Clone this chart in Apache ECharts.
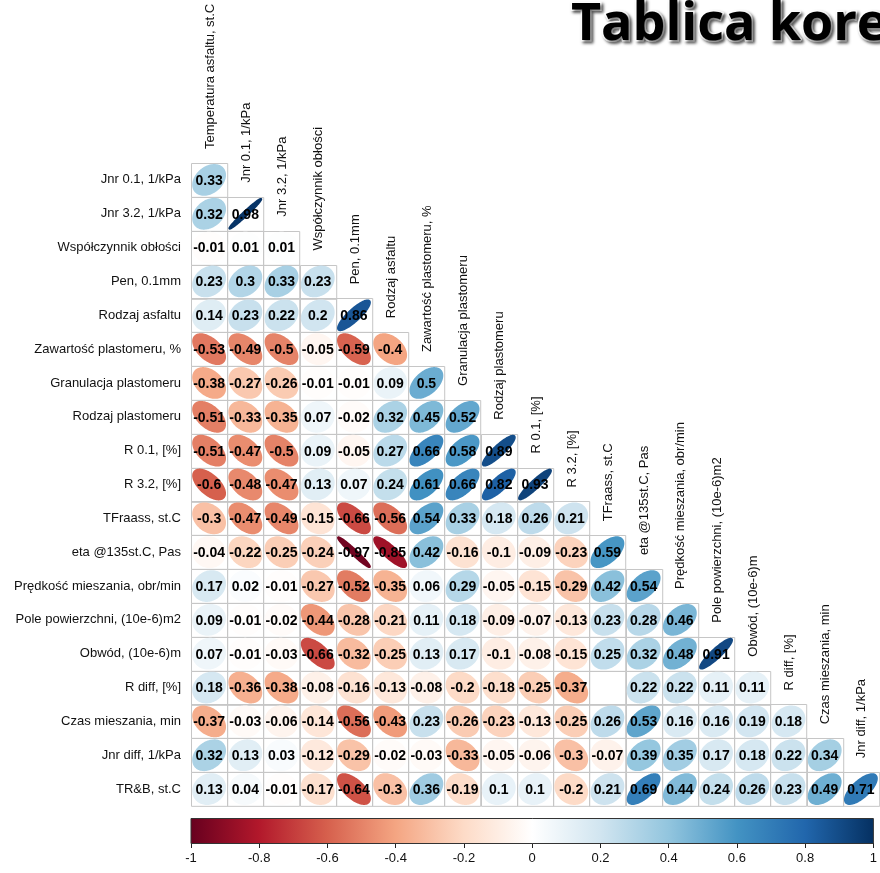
<!DOCTYPE html>
<html>
<head>
<meta charset="utf-8">
<script src="https://cdn.jsdelivr.net/npm/echarts@6/dist/echarts.min.js"></script>
<style>
  html, body { margin: 0; padding: 0; background: #fff; }
  #chart { width: 880px; height: 873px; }
</style>
</head>
<body>
<div id="chart"></div>
<script>
// Variables along the rows (lower triangle, diagonal omitted)
const rowNames = [
  'Jnr 0.1, 1/kPa', 'Jnr 3.2, 1/kPa', 'Współczynnik obłości', 'Pen, 0.1mm',
  'Rodzaj asfaltu', 'Zawartość plastomeru, %', 'Granulacja plastomeru',
  'Rodzaj plastomeru', 'R 0.1, [%]', 'R 3.2, [%]', 'TFraass, st.C',
  'eta @135st.C, Pas', 'Prędkość mieszania, obr/min', 'Pole powierzchni, (10e-6)m2',
  'Obwód, (10e-6)m', 'R diff, [%]', 'Czas mieszania, min', 'Jnr diff, 1/kPa', 'TR&B, st.C'
];

// Variables along the columns
const colNames = [
  'Temperatura asfaltu, st.C', 'Jnr 0.1, 1/kPa', 'Jnr 3.2, 1/kPa', 'Współczynnik obłości',
  'Pen, 0.1mm', 'Rodzaj asfaltu', 'Zawartość plastomeru, %', 'Granulacja plastomeru',
  'Rodzaj plastomeru', 'R 0.1, [%]', 'R 3.2, [%]', 'TFraass, st.C', 'eta @135st.C, Pas',
  'Prędkość mieszania, obr/min', 'Pole powierzchni, (10e-6)m2', 'Obwód, (10e-6)m',
  'R diff, [%]', 'Czas mieszania, min', 'Jnr diff, 1/kPa'
];

// Pearson correlations, one row per variable (null = not available)
const corrRows = [
  [0.33],
  [0.32, 0.98],
  [-0.01, 0.01, 0.01],
  [0.23, 0.3, 0.33, 0.23],
  [0.14, 0.23, 0.22, 0.2, 0.86],
  [-0.53, -0.49, -0.5, -0.05, -0.59, -0.4],
  [-0.38, -0.27, -0.26, -0.01, -0.01, 0.09, 0.5],
  [-0.51, -0.33, -0.35, 0.07, -0.02, 0.32, 0.45, 0.52],
  [-0.51, -0.47, -0.5, 0.09, -0.05, 0.27, 0.66, 0.58, 0.89],
  [-0.6, -0.48, -0.47, 0.13, 0.07, 0.24, 0.61, 0.66, 0.82, 0.93],
  [-0.3, -0.47, -0.49, -0.15, -0.66, -0.56, 0.54, 0.33, 0.18, 0.26, 0.21],
  [-0.04, -0.22, -0.25, -0.24, -0.97, -0.85, 0.42, -0.16, -0.1, -0.09, -0.23, 0.59],
  [0.17, 0.02, -0.01, -0.27, -0.52, -0.35, 0.06, 0.29, -0.05, -0.15, -0.29, 0.42, 0.54],
  [0.09, -0.01, -0.02, -0.44, -0.28, -0.21, 0.11, 0.18, -0.09, -0.07, -0.13, 0.23, 0.28, 0.46],
  [0.07, -0.01, -0.03, -0.66, -0.32, -0.25, 0.13, 0.17, -0.1, -0.08, -0.15, 0.25, 0.32, 0.48, 0.91],
  [0.18, -0.36, -0.38, -0.08, -0.16, -0.13, -0.08, -0.2, -0.18, -0.25, -0.37, null, 0.22, 0.22, 0.11, 0.11],
  [-0.37, -0.03, -0.06, -0.14, -0.56, -0.43, 0.23, -0.26, -0.23, -0.13, -0.25, 0.26, 0.53, 0.16, 0.16, 0.19, 0.18],
  [0.32, 0.13, 0.03, -0.12, -0.29, -0.02, -0.03, -0.33, -0.05, -0.06, -0.3, -0.07, 0.39, 0.35, 0.17, 0.18, 0.22, 0.34],
  [0.13, 0.04, -0.01, -0.17, -0.64, -0.3, 0.36, -0.19, 0.1, 0.1, -0.2, 0.21, 0.69, 0.44, 0.24, 0.26, 0.23, 0.49, 0.71]
];

// Colour bar ticks
const legendTicks = [-1, -0.8, -0.6, -0.4, -0.2, 0, 0.2, 0.4, 0.6, 0.8, 1];

// Diverging red-white-blue palette, evenly spaced from -1 to 1
const palette = ['#67001F', '#B2182B', '#D6604D', '#F4A582', '#FDDBC7', '#FFFFFF',
                 '#D1E5F0', '#92C5DE', '#4393C3', '#2166AC', '#053061'];

function hexToRgb(h) {
  return [parseInt(h.slice(1, 3), 16), parseInt(h.slice(3, 5), 16), parseInt(h.slice(5, 7), 16)];
}
function colorFor(r) {
  const t = (r + 1) / 2 * (palette.length - 1);
  const i = Math.min(Math.floor(t), palette.length - 2);
  const f = t - i;
  const a = hexToRgb(palette[i]), b = hexToRgb(palette[i + 1]);
  const c = a.map((v, k) => Math.round(v + (b[k] - v) * f));
  return 'rgb(' + c.join(',') + ')';
}

const cells = [];
corrRows.forEach((row, ri) => {
  row.forEach((r, ci) => cells.push({ col: ci, row: ri, r: r }));
});

const FONT = '"Liberation Sans", Arial, sans-serif';

function renderCell(params, api) {
  const c = cells[params.dataIndex];
  const ctr = api.coord([c.col, c.row]);
  const size = api.size([1, 1]);
  const w = size[0], h = size[1];
  const children = [{
    type: 'rect',
    shape: { x: Math.round(ctr[0] - w / 2) + 0.5, y: Math.round(ctr[1] - h / 2) + 0.5, width: w, height: h },
    style: { fill: null, stroke: '#c6c6c6', lineWidth: 1 }
  }];
  if (c.r !== null) {
    // ellipse whose eccentricity and tilt follow the correlation
    const d = Math.acos(c.r) / 2;
    const pts = [];
    for (let i = 0; i < 100; i++) {
      const k = 2 * Math.PI * i / 100;
      pts.push([ctr[0] + Math.cos(k + d) / 2 * 0.88 * w,
                ctr[1] - Math.cos(k - d) / 2 * 0.88 * h]);
    }
    const col = colorFor(c.r);
    children.push({
      type: 'polygon', shape: { points: pts },
      style: { fill: col, stroke: col, lineWidth: 2, lineJoin: 'round' }
    });
    children.push({
      type: 'text',
      style: {
        text: String(c.r), x: ctr[0], y: ctr[1] + 1,
        textAlign: 'center', textVerticalAlign: 'middle',
        font: 'bold 14px ' + FONT, fill: '#000'
      }
    });
  }
  return { type: 'group', children: children };
}

// Column label sits just above the top cell of its column
function renderColLabel(params, api) {
  const j = params.dataIndex;
  const ctr = api.coord([j, j]);
  const size = api.size([1, 1]);
  return {
    type: 'text',
    x: ctr[0] + 1,
    y: ctr[1] - size[1] / 2 - 14,
    rotation: Math.PI / 2,
    style: {
      text: colNames[j], textAlign: 'left', textVerticalAlign: 'middle',
      font: '13px ' + FONT, fill: '#111'
    }
  };
}

function renderBar(params, api) {
  const p0 = api.coord([-1, 1]);
  const p1 = api.coord([1, 0]);
  const stops = palette.map((c, i) => ({ offset: i / (palette.length - 1), color: c }));
  return {
    type: 'rect',
    shape: { x: p0[0], y: p0[1] + 0.5, width: p1[0] - p0[0], height: p1[1] - p0[1] },
    style: {
      fill: new echarts.graphic.LinearGradient(0, 0, 1, 0, stops),
      stroke: '#333', lineWidth: 1
    }
  };
}

const chart = echarts.init(document.getElementById('chart'), null, { renderer: 'canvas' });
chart.setOption({
  animation: false,
  backgroundColor: '#fff',
  title: {
    text: 'Tablica korelacji',
    left: 566, top: -6,
    textStyle: {
      fontFamily: '"Open Sans", sans-serif', fontWeight: 'bold', fontSize: 52,
      color: '#000', textBorderColor: '#fff', textBorderWidth: 3,
      textShadowColor: 'rgba(0,0,0,0.55)', textShadowBlur: 3,
      textShadowOffsetX: 2, textShadowOffsetY: 2
    }
  },
  grid: [
    { left: 191, width: 688, top: 163, height: 643 },
    { left: 191, width: 688, top: 818, height: 25 }
  ],
  xAxis: [
    {
      gridIndex: 0, type: 'category', data: colNames,
      axisLine: { show: false }, axisTick: { show: false },
      axisLabel: { show: false }, splitLine: { show: false }
    },
    {
      gridIndex: 1, type: 'value', min: -1, max: 1, interval: 0.2,
      position: 'bottom',
      axisLine: { show: false },
      axisTick: { show: true, length: 5, lineStyle: { color: '#222' } },
      axisLabel: {
        margin: 9, fontSize: 13, fontFamily: FONT, color: '#111',
        formatter: v => String(Math.round(v * 10) / 10)
      },
      splitLine: { show: false }
    }
  ],
  yAxis: [
    {
      gridIndex: 0, type: 'category', data: rowNames, inverse: true,
      axisLine: { show: false }, axisTick: { show: false },
      axisLabel: { margin: 10, fontSize: 13, fontFamily: FONT, color: '#111' },
      splitLine: { show: false }
    },
    {
      gridIndex: 1, type: 'value', min: 0, max: 1, show: false
    }
  ],
  series: [
    {
      type: 'custom', xAxisIndex: 0, yAxisIndex: 0,
      data: cells.map(c => [c.col, c.row, c.r === null ? 0 : c.r]),
      renderItem: renderCell
    },
    {
      type: 'custom', xAxisIndex: 0, yAxisIndex: 0,
      data: colNames.map((n, j) => [j, j]),
      renderItem: renderColLabel, clip: false
    },
    {
      type: 'custom', xAxisIndex: 1, yAxisIndex: 1,
      data: [[-1, 0]],
      renderItem: renderBar
    }
  ]
});
</script>
</body>
</html>
